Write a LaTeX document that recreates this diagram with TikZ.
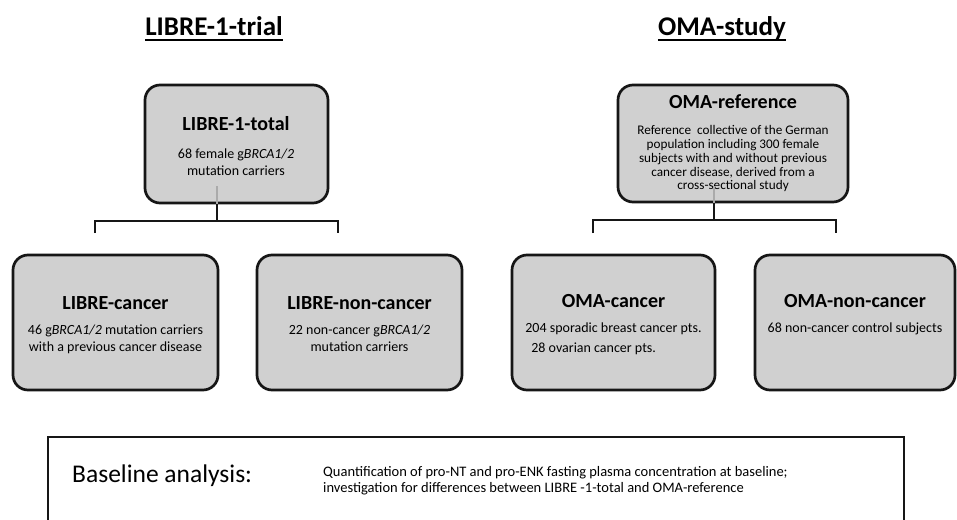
\documentclass[tikz,border=0pt]{standalone}
\usepackage{fontspec}
\setmainfont{Carlito}
\definecolor{boxfill}{RGB}{208,208,208}
\definecolor{boxline}{RGB}{22,22,22}
\definecolor{stubgray}{RGB}{170,170,170}
\tikzset{
  grpbox/.style={draw=boxline, fill=boxfill, line width=2.7pt, rounded corners=15pt, inner sep=0pt},
  hdr/.style={font=\fontsize{27}{30}\selectfont\bfseries, inner sep=0pt, anchor=base},
  ttl/.style={font=\fontsize{20}{24}\selectfont\bfseries, inner sep=0pt, anchor=base},
  sub/.style={font=\fontsize{14}{16.5}\selectfont, inner sep=0pt, align=center, anchor=north},
  conn/.style={draw=boxline, line width=2.7pt},
  stub/.style={draw=stubgray, line width=2pt},
}
\begin{document}
\begin{tikzpicture}[x=1pt,y=-1pt]
\useasboundingbox[fill=white] (0,0) rectangle (957,519);
% headers
\node[hdr] (h1) at (214,36) {LIBRE-1-trial};
\draw[line width=2pt] ([yshift=-4pt]h1.base west) -- ([yshift=-4pt]h1.base east);
\node[hdr] (h2) at (722,36) {OMA-study};
\draw[line width=2pt] ([yshift=-4pt]h2.base west) -- ([yshift=-4pt]h2.base east);
% top boxes
\node[grpbox, minimum width=183pt, minimum height=118pt] (tot) at (236.5,144) {};
\node[ttl] (tott) at (236,130) {LIBRE-1-total};
\node[sub] (tots) at (236,149) {68 female g\textit{BRCA1/2}\\mutation carriers};
\node[grpbox, minimum width=230pt, minimum height=117pt] (ref) at (733,143.5) {};
\node[ttl] (reft) at (733,108) {OMA-reference};
\node[sub, font=\fontsize{13.2}{13.9}\selectfont] (refs) at (733,125) {Reference\ \ collective of the German\\population including 300 female\\subjects with and without previous\\cancer disease, derived from a\\cross-sectional study};
% bottom boxes
\node[grpbox, minimum width=205pt, minimum height=135pt] (lc) at (115.5,322.5) {};
\node[ttl] (lct) at (115.5,309) {LIBRE-cancer};
\node[sub] (lcs) at (115.5,325) {46 g\textit{BRCA1/2} mutation carriers\\with a previous cancer disease};
\node[grpbox, minimum width=205pt, minimum height=135pt] (ln) at (359.5,322.5) {};
\node[ttl] (lnt) at (359.5,309) {LIBRE-non-cancer};
\node[sub] (lns) at (359.5,325) {22 non-cancer g\textit{BRCA1/2}\\mutation carriers};
\node[grpbox, minimum width=203pt, minimum height=135pt] (oc) at (613.5,322.5) {};
\node[ttl] (oct) at (613.5,307) {OMA-cancer};
\node[sub, align=left, font=\fontsize{14}{20}\selectfont] (ocs) at (613.5,323) {204 sporadic breast cancer pts.\\\hspace*{6pt}28 ovarian cancer pts.};
\node[grpbox, minimum width=200pt, minimum height=135pt] (on) at (855,322.5) {};
\node[ttl] (ont) at (855,307) {OMA-non-cancer};
\node[sub] (ons) at (855,323) {68 non-cancer control subjects};
% connectors LIBRE
\coordinate (lj) at (217,221);
\coordinate (ldl) at (95,233);
\coordinate (ldr) at (338,233);
\draw[stub] (tot.south -| lj) -- ++(0,-18);
\draw[conn] (tot.south -| lj) -- (lj);
\draw[conn] (ldl) |- (lj) -| (ldr);
% connectors OMA
\coordinate (oj) at (714,220);
\coordinate (odl) at (593,233);
\coordinate (odr) at (836,233);
\draw[stub] (ref.south -| oj) -- ++(0,-17);
\draw[conn] (ref.south -| oj) -- (oj);
\draw[conn] (odl) |- (oj) -| (odr);
% baseline box
\node[draw=boxline, line width=1.8pt, minimum width=856pt, minimum height=110pt, anchor=north west, inner sep=0pt] (base) at (47,436) {};
\node[font=\fontsize{25.5}{28}\selectfont, anchor=base west, inner sep=0pt] (bl) at (72,482) {Baseline analysis:};
\node[font=\fontsize{14.5}{16}\selectfont, anchor=west, align=left, inner sep=0pt] (bt) at (323,481) {Quantification of pro-NT and pro-ENK fasting plasma concentration at baseline;\\investigation for differences between LIBRE -1-total and OMA-reference};
\end{tikzpicture}
\end{document}
